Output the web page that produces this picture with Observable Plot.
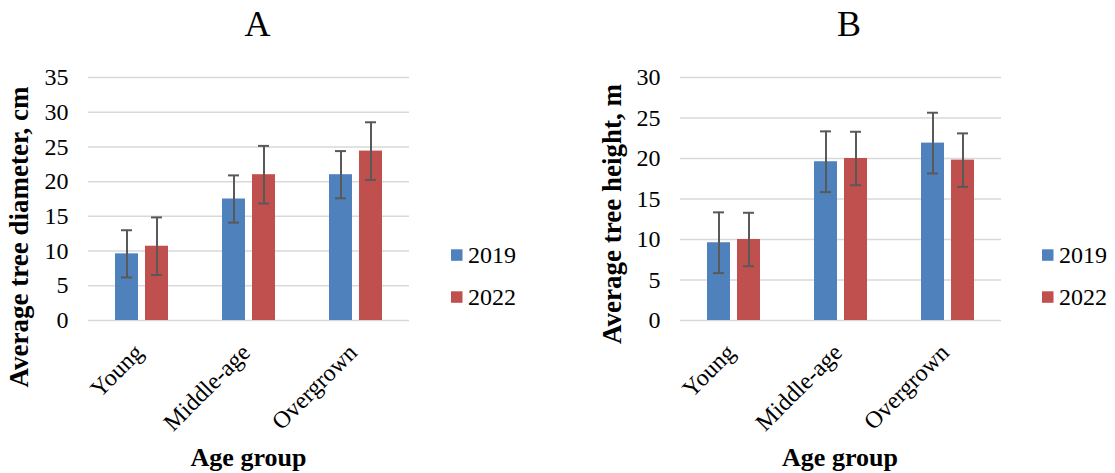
<!DOCTYPE html>
<html>
<head>
<meta charset="utf-8">
<script src="https://cdn.jsdelivr.net/npm/d3@7"></script>
<script src="https://cdn.jsdelivr.net/npm/@observablehq/plot@0.6"></script>
<style>
  body { margin: 0; background: #fff; }
  #chart { position: relative; width: 1115px; height: 473px; overflow: hidden;
           font-family: "Liberation Serif", "Times New Roman", serif; color: #000; }
  .panel { position: absolute; top: 0; }
  .overlay { position: absolute; left: 0; top: 0; pointer-events: none; }
</style>
</head>
<body>
<div id="chart"></div>
<script>
// Stand age groups and survey years
const ageGroups = ["Young", "Middle-age", "Overgrown"];
const years = ["2019", "2022"];
const yearColors = ["#4F81BD", "#C0504D"];

// Average tree diameter, cm (mean and standard deviation)
const diameterMean2019 = [9.6, 17.5, 21.0];
const diameterSd2019 = [3.4, 3.4, 3.4];
const diameterMean2022 = [10.7, 21.0, 24.4];
const diameterSd2022 = [4.15, 4.15, 4.15];
const diameterTicks = [0, 5, 10, 15, 20, 25, 30, 35];

// Average tree height, m (mean and standard deviation)
const heightMean2019 = [9.6, 19.6, 21.9];
const heightSd2019 = [3.75, 3.75, 3.75];
const heightMean2022 = [10.0, 20.0, 19.8];
const heightSd2022 = [3.3, 3.3, 3.3];
const heightTicks = [0, 5, 10, 15, 20, 25, 30];

const serif = "'Liberation Serif', 'Times New Roman', serif";
const errColor = "#595959";

function rows(m19, s19, m22, s22) {
  return ageGroups.flatMap((g, i) => [
    {group: g, year: years[0], mean: m19[i], sd: s19[i]},
    {group: g, year: years[1], mean: m22[i], sd: s22[i]}
  ]);
}

function barChart(data, ticks) {
  return Plot.plot({
    width: 420,
    height: 473,
    marginLeft: 88,
    marginRight: 11,
    marginTop: 77,
    marginBottom: 153,
    style: {fontFamily: serif, fontSize: "24px", color: "#000", background: "transparent", overflow: "visible"},
    fx: {domain: ageGroups, paddingInner: 0, paddingOuter: 0, label: null},
    x: {domain: years, paddingInner: 0.22, paddingOuter: 0.89, axis: null},
    y: {domain: [0, d3.max(ticks)], ticks, tickSize: 0, tickPadding: 20, label: null},
    color: {domain: years, range: yearColors},
    marks: [
      Plot.gridY(ticks, {stroke: "#D9D9D9", strokeOpacity: 1, strokeWidth: 1.5}),
      Plot.axisFx({anchor: "bottom", label: null, tickRotate: -45, tickSize: 0, tickPadding: 28, dx: -3}),
      Plot.barY(data, {fx: "group", x: "year", y: "mean", fill: "year"}),
      Plot.ruleX(data, {fx: "group", x: "year", y1: d => d.mean - d.sd, y2: d => d.mean + d.sd,
                        stroke: errColor, strokeWidth: 2}),
      Plot.tickY(data, {fx: "group", x: "year", y: d => d.mean - d.sd, stroke: errColor,
                        strokeWidth: 2, insetLeft: 6, insetRight: 6}),
      Plot.tickY(data, {fx: "group", x: "year", y: d => d.mean + d.sd, stroke: errColor,
                        strokeWidth: 2, insetLeft: 6, insetRight: 6})
    ]
  });
}

const chart = d3.select("#chart");

const panels = [
  {left: 0, title: "A", titleX: 257.5, yLabel: "Average tree diameter, cm", yLabelX: 28, yLabelY: 237,
   xTitleX: 248.5, legendX: 451,
   data: rows(diameterMean2019, diameterSd2019, diameterMean2022, diameterSd2022), ticks: diameterTicks},
  {left: 591.7, title: "B", titleX: 849, yLabel: "Average tree height, m", yLabelX: 621, yLabelY: 214,
   xTitleX: 840, legendX: 1042,
   data: rows(heightMean2019, heightSd2019, heightMean2022, heightSd2022), ticks: heightTicks}
];

for (const p of panels) {
  chart.append("div")
    .attr("class", "panel")
    .style("left", p.left + "px")
    .node().appendChild(barChart(p.data, p.ticks));
}

// Titles, axis titles and legends
const overlay = chart.append("svg")
  .attr("class", "overlay")
  .attr("width", 1115)
  .attr("height", 473)
  .style("font-family", serif);

for (const p of panels) {
  overlay.append("text")
    .attr("x", p.titleX).attr("y", 36)
    .attr("text-anchor", "middle")
    .style("font-size", "36px")
    .text(p.title);

  overlay.append("text")
    .attr("transform", `translate(${p.yLabelX},${p.yLabelY}) rotate(-90)`)
    .attr("text-anchor", "middle")
    .style("font-size", "27px").style("font-weight", "bold")
    .text(p.yLabel);

  overlay.append("text")
    .attr("x", p.xTitleX).attr("y", 466)
    .attr("text-anchor", "middle")
    .style("font-size", "26px").style("font-weight", "bold")
    .text("Age group");

  years.forEach((yr, i) => {
    const base = 263.3 + i * 42;
    overlay.append("rect")
      .attr("x", p.legendX).attr("y", base - 14)
      .attr("width", 11.5).attr("height", 11.5)
      .attr("fill", yearColors[i]);
    overlay.append("text")
      .attr("x", p.legendX + 17).attr("y", base)
      .style("font-size", "24px")
      .text(yr);
  });
}
</script>
</body>
</html>
